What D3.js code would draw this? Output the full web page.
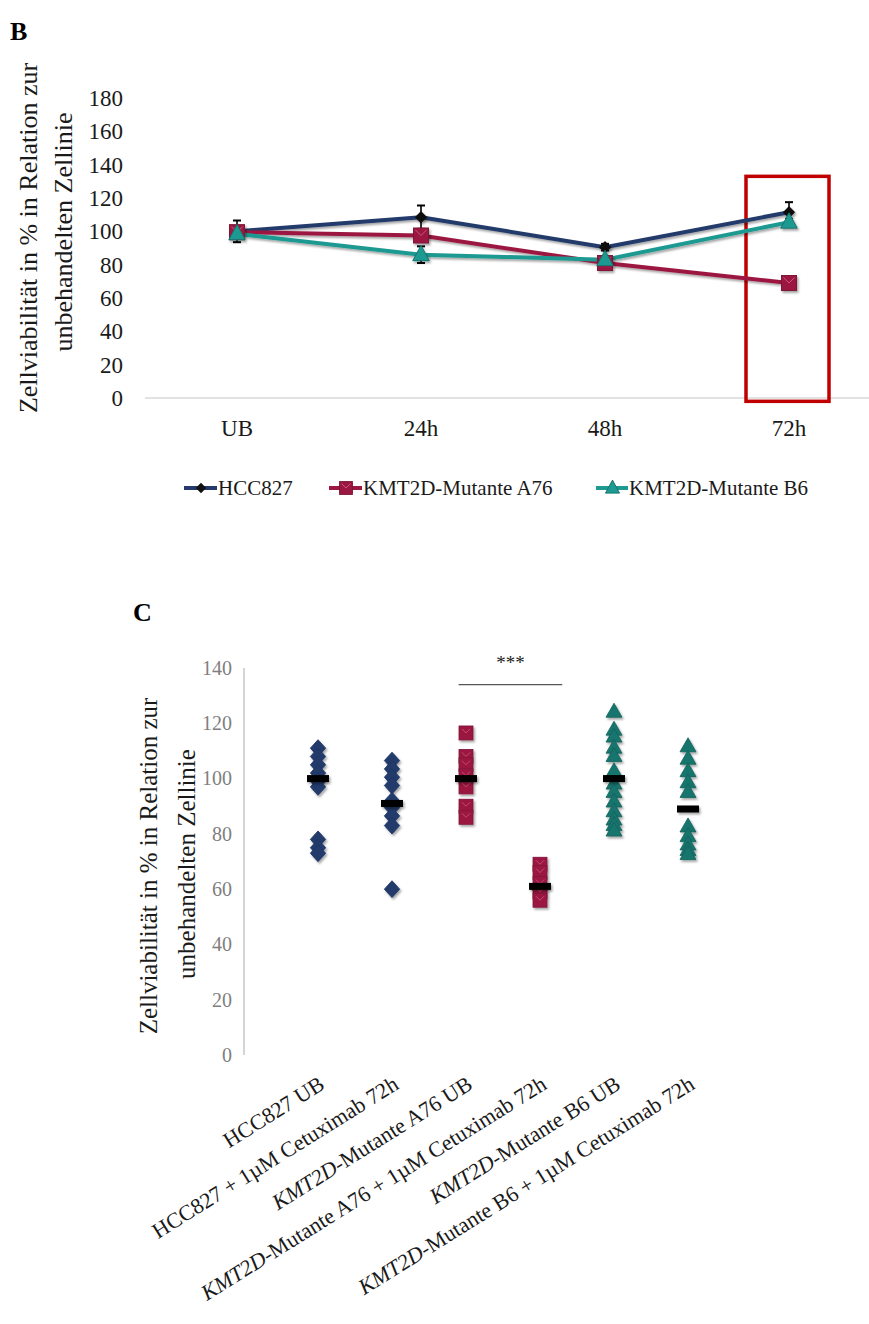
<!DOCTYPE html>
<html>
<head>
<meta charset="utf-8">
<script src="https://cdn.jsdelivr.net/npm/d3@7/dist/d3.min.js"></script>
<style>
  html, body { margin: 0; padding: 0; background: #fff; }
  svg { display: block; font-family: "Liberation Serif", "Times New Roman", serif; }
</style>
</head>
<body>
<svg id="chart" width="869" height="1324"></svg>
<script>
// ---------- Panel B data ----------
const timeCats = ["UB", "24h", "48h", "72h"];
const yTicksB = [0, 20, 40, 60, 80, 100, 120, 140, 160, 180];
const hccMean = [100, 108.5, 90.5, 111.5];
const hccErr  = [6.5, 7, 2, 6];
const a76Mean = [99.5, 97.5, 81, 69];
const a76Err  = [2, 2, 2, 1];
const b6Mean  = [98.5, 86, 83, 105.5];
const b6Err   = [3, 5, 2, 2];
const seriesNames = ["HCC827", "KMT2D-Mutante A76", "KMT2D-Mutante B6"];
const highlightCat = "72h";

// ---------- Panel C data ----------
const groupLabels = [
  "HCC827 UB",
  "HCC827 + 1µM Cetuximab 72h",
  "KMT2D-Mutante A76 UB",
  "KMT2D-Mutante  A76 + 1µM Cetuximab 72h",
  "KMT2D-Mutante B6 UB",
  "KMT2D-Mutante B6 + 1µM Cetuximab 72h"
];
const groupPos = [1, 2, 3, 4, 5, 6];
const hccUB   = [111, 108, 105, 102, 99, 97, 78, 75, 73];
const hccCet  = [106.5, 103.5, 100.5, 97.5, 92, 89.5, 86.5, 83, 60];
const a76UB   = [116.5, 108, 105, 101, 97, 90, 86];
const a76Cet  = [69, 66, 62, 59, 56];
const b6UB    = [124, 117.5, 115, 111, 108, 102.5, 98, 95, 91.5, 88, 85, 83, 81];
const b6Cet   = [111.5, 107, 102.5, 98.5, 95, 82.5, 79, 76, 74, 72.5];
const medians = [100, 91, 100, 61, 100, 89];
const yTicksC = [0, 20, 40, 60, 80, 100, 120, 140];
const sigRange = [2.9, 4.3];
const sigLevel = 134;
const sigText = "***";

// ---------- colours ----------
const navy = "#243b6b", crimson = "#9c1842", teal = "#1f9a92";
const tealDark = "#17746d", crimsonDark = "#7e1236", navyDark = "#1d3466";

const svg = d3.select("#chart");
const defs = svg.append("defs");
const sh = defs.append("filter").attr("id", "shadow").attr("x", "-50%").attr("y", "-50%").attr("width", "200%").attr("height", "200%");
sh.append("feDropShadow").attr("dx", 1.5).attr("dy", 2).attr("stdDeviation", 1.3).attr("flood-color", "#000").attr("flood-opacity", 0.35);

// ============ PANEL B ============
svg.append("text").attr("x", 10).attr("y", 40).attr("font-size", 26).attr("font-weight", "bold").text("B");

const xB = d3.scaleBand().domain(timeCats).range([145, 881]);
const cx = c => xB(c) + xB.bandwidth() / 2;
const yB = d3.scaleLinear().domain([0, 180]).range([398, 98]);

svg.append("line").attr("x1", 145).attr("x2", 869).attr("y1", yB(0)).attr("y2", yB(0))
  .attr("stroke", "#d9d9d9").attr("stroke-width", 1.5);

const gyB = svg.append("g").attr("transform", "translate(123,0)")
  .call(d3.axisLeft(yB).tickValues(yTicksB).tickSize(0).tickPadding(0));
gyB.select(".domain").remove();
gyB.selectAll("text").attr("font-size", 23).attr("font-family", "Liberation Serif, serif").attr("fill", "#1a1a1a");

const gxB = svg.append("g").attr("transform", `translate(0,${yB(0)})`)
  .call(d3.axisBottom(xB).tickSize(0).tickPadding(22));
gxB.select(".domain").remove();
gxB.selectAll("text").attr("font-size", 23).attr("font-family", "Liberation Serif, serif").attr("fill", "#1a1a1a");

const tB = svg.append("g").attr("font-size", 26).attr("fill", "#1a1a1a");
tB.append("text").attr("transform", "translate(28,238) rotate(-90)").attr("text-anchor", "middle")
  .attr("dominant-baseline", "central").text("Zellviabilität in  % in Relation zur");
tB.append("text").attr("transform", "translate(63,232) rotate(-90)").attr("text-anchor", "middle")
  .attr("dominant-baseline", "central").text("unbehandelten Zellinie");

svg.append("rect")
  .attr("x", cx(highlightCat) - 43).attr("width", 83)
  .attr("y", yB(133)).attr("height", yB(-2) - yB(133))
  .attr("fill", "none").attr("stroke", "#c00000").attr("stroke-width", 3.5);

const seriesB = [
  { name: seriesNames[0], mean: hccMean, err: hccErr, color: navy, marker: "diamond" },
  { name: seriesNames[1], mean: a76Mean, err: a76Err, color: crimson, marker: "square" },
  { name: seriesNames[2], mean: b6Mean, err: b6Err, color: teal, marker: "triangle" }
];

const symDiamond = d3.symbol().type(d3.symbolDiamond2).size(95);
function drawMarker(g, type, x, y, scale) {
  scale = scale || 1;
  if (type === "diamond") {
    g.append("path").attr("d", symDiamond()).attr("transform", `translate(${x},${y}) scale(${scale})`)
      .attr("fill", "#111");
  } else if (type === "square") {
    const s = 15 * scale;
    g.append("rect").attr("x", x - s / 2).attr("y", y - s / 2).attr("width", s).attr("height", s)
      .attr("fill", crimson).attr("stroke", crimsonDark).attr("stroke-width", 1);
    g.append("path").attr("d", `M${x - s / 2 + 2},${y - s / 2 + 2}L${x},${y}L${x + s / 2 - 2},${y - s / 2 + 2}`)
      .attr("stroke", "#c8577a").attr("stroke-width", 1).attr("fill", "none");
  } else {
    const s = 15 * scale;
    g.append("path").attr("d", `M${x},${y - s * 0.62}L${x + s * 0.55},${y + s * 0.4}L${x - s * 0.55},${y + s * 0.4}Z`)
      .attr("fill", teal).attr("stroke", tealDark).attr("stroke-width", 1);
  }
}

const line = d3.line().x((d, i) => cx(timeCats[i])).y(d => yB(d));
const gLines = svg.append("g").attr("filter", "url(#shadow)");
seriesB.forEach(s => {
  gLines.append("path").datum(s.mean).attr("d", line).attr("fill", "none")
    .attr("stroke", s.color).attr("stroke-width", 4).attr("stroke-linejoin", "round");
});
const gErr = svg.append("g");
seriesB.forEach(s => {
  s.mean.forEach((v, i) => {
    const x = cx(timeCats[i]);
    gErr.append("line").attr("x1", x).attr("x2", x).attr("y1", yB(v - s.err[i])).attr("y2", yB(v + s.err[i]))
      .attr("stroke", "#000").attr("stroke-width", 1.6);
    [v - s.err[i], v + s.err[i]].forEach(e => {
      gErr.append("line").attr("x1", x - 4).attr("x2", x + 4).attr("y1", yB(e)).attr("y2", yB(e))
        .attr("stroke", "#000").attr("stroke-width", 2);
    });
  });
});
const gMark = svg.append("g").attr("filter", "url(#shadow)");
seriesB.forEach(s => {
  s.mean.forEach((v, i) => drawMarker(gMark, s.marker, cx(timeCats[i]), yB(v)));
});

// legend
const legendPos = [[184, 218], [329, 363], [596, 629]];
const gLeg = svg.append("g");
seriesB.forEach((s, i) => {
  const [x0, x1] = legendPos[i];
  gLeg.append("line").attr("x1", x0).attr("x2", x1 - 1).attr("y1", 488).attr("y2", 488)
    .attr("stroke", s.color).attr("stroke-width", 4);
  drawMarker(gLeg, s.marker, (x0 + x1) / 2, 488, 0.85);
  gLeg.append("text").attr("x", x1).attr("y", 495).attr("font-size", 21).attr("fill", "#1a1a1a").text(s.name);
});

// ============ PANEL C ============
svg.append("text").attr("x", 133).attr("y", 621).attr("font-size", 26).attr("font-weight", "bold").text("C");

const xC = d3.scaleLinear().domain([0, 7]).range([244, 762]);
const yC = d3.scaleLinear().domain([0, 140]).range([1055, 668]);

svg.append("line").attr("x1", xC(0)).attr("x2", xC(0)).attr("y1", yC(140)).attr("y2", yC(0))
  .attr("stroke", "#bfbfbf").attr("stroke-width", 1.3);

const gyC = svg.append("g").attr("transform", "translate(232,0)")
  .call(d3.axisLeft(yC).tickValues(yTicksC).tickSize(0).tickPadding(0));
gyC.select(".domain").remove();
gyC.selectAll("text").attr("font-size", 20).attr("font-family", "Liberation Serif, serif").attr("fill", "#7f7f7f");

const tC = svg.append("g").attr("font-size", 25).attr("fill", "#1a1a1a");
tC.append("text").attr("transform", "translate(148,866) rotate(-90)").attr("text-anchor", "middle")
  .attr("dominant-baseline", "central").text("Zellviabilität in % in Relation zur");
tC.append("text").attr("transform", "translate(186,864) rotate(-90)").attr("text-anchor", "middle")
  .attr("dominant-baseline", "central").text("unbehandelten Zellinie");

const groupsC = [
  { vals: hccUB, marker: "diamond" },
  { vals: hccCet, marker: "diamond" },
  { vals: a76UB, marker: "square" },
  { vals: a76Cet, marker: "square" },
  { vals: b6UB, marker: "triangle" },
  { vals: b6Cet, marker: "triangle" }
];

const gPts = svg.append("g").attr("filter", "url(#shadow)");
const bigDiamond = d3.symbol().type(d3.symbolDiamond2).size(150);
groupsC.forEach((g, gi) => {
  const x = xC(groupPos[gi]);
  g.vals.forEach(v => {
    const y = yC(v);
    if (g.marker === "diamond") {
      gPts.append("path").attr("d", bigDiamond()).attr("transform", `translate(${x},${y}) scale(1,1.1)`)
        .attr("fill", navy).attr("stroke", navyDark).attr("stroke-width", 0.8);
    } else if (g.marker === "square") {
      gPts.append("rect").attr("x", x - 7).attr("y", y - 7).attr("width", 14).attr("height", 14)
        .attr("fill", crimson).attr("stroke", crimsonDark).attr("stroke-width", 0.8);
      gPts.append("path").attr("d", `M${x - 4},${y - 4}L${x},${y}L${x + 4},${y - 4}`)
        .attr("stroke", "#c8577a").attr("stroke-width", 0.8).attr("fill", "none");
    } else {
      gPts.append("path").attr("d", `M${x},${y - 9}L${x + 8},${y + 5}L${x - 8},${y + 5}Z`)
        .attr("fill", tealDark).attr("stroke", "#13615b").attr("stroke-width", 0.8);
    }
  });
});

const gMed = svg.append("g").attr("filter", "url(#shadow)");
medians.forEach((m, i) => {
  gMed.append("rect").attr("x", xC(groupPos[i]) - 11).attr("y", yC(m) - 3.5)
    .attr("width", 22).attr("height", 7).attr("fill", "#000");
});

svg.append("line").attr("x1", xC(sigRange[0])).attr("x2", xC(sigRange[1]))
  .attr("y1", yC(sigLevel)).attr("y2", yC(sigLevel)).attr("stroke", "#555").attr("stroke-width", 1.2);
svg.append("text").attr("x", (xC(sigRange[0]) + xC(sigRange[1])) / 2).attr("y", yC(sigLevel) - 16)
  .attr("text-anchor", "middle").attr("font-size", 19).attr("fill", "#222").text(sigText);

const gXL = svg.append("g").attr("font-size", 22).attr("fill", "#1a1a1a");
groupLabels.forEach((lab, i) => {
  const x = xC(groupPos[i]) + 8, y = 1088;
  const t = gXL.append("text").attr("transform", `translate(${x},${y}) rotate(-32)`).attr("text-anchor", "end");
  if (lab.startsWith("KMT2D")) {
    t.append("tspan").attr("font-style", "italic").text("KMT2D");
    t.append("tspan").text(lab.slice(5));
  } else {
    t.text(lab);
  }
});
</script>
</body>
</html>
